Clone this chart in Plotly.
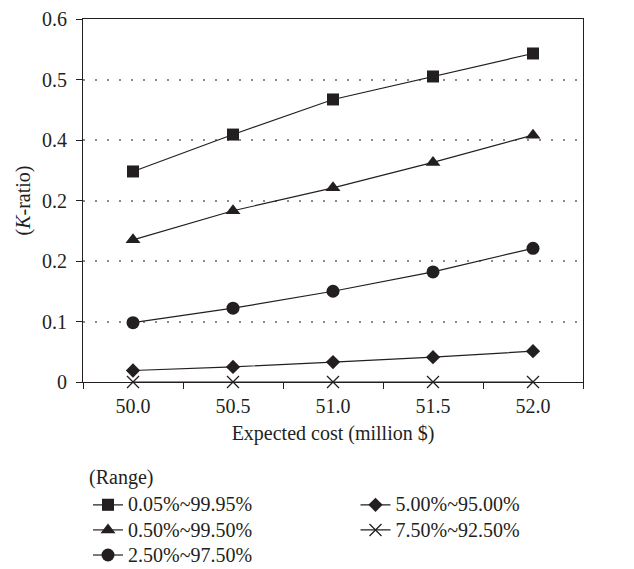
import plotly.graph_objects as go

categories = ["50.0", "50.5", "51.0", "51.5", "52.0"]
series_names = ["0.05%~99.95%", "0.50%~99.50%", "2.50%~97.50%", "5.00%~95.00%", "7.50%~92.50%"]
s1 = [0.348, 0.409, 0.467, 0.505, 0.543]
s2 = [0.235, 0.283, 0.321, 0.363, 0.408]
s3 = [0.098, 0.122, 0.150, 0.182, 0.221]
s4 = [0.019, 0.025, 0.033, 0.041, 0.051]
s5 = [0.0, 0.0, 0.0, 0.0, 0.0]
y_tickvals = [0, 0.1, 0.2, 0.3, 0.4, 0.5, 0.6]
y_ticktext = ["0", "0.1", "0.2", "0.2", "0.4", "0.5", "0.6"]

INK = "#231f20"
FONT = "Liberation Serif"
FS = 20

symbols = ["square", "triangle-up", "circle", "diamond", "x-thin"]
sizes = [12, 13, 13, 11, 12]
legends = ["legend", "legend", "legend", "legend2", "legend2"]
data = [s1, s2, s3, s4, s5]

fig = go.Figure()
for name, vals, sym, sz, lg in zip(series_names, data, symbols, sizes, legends):
    marker = dict(symbol=sym, size=sz, color=INK)
    if sym == "x-thin":
        marker["line"] = dict(color=INK, width=1.3)
    fig.add_trace(go.Scatter(
        x=categories, y=vals, mode="lines+markers",
        name='<span style="font-size:20px">' + name + '</span>',
        line=dict(color=INK, width=1.2), marker=marker, legend=lg,
        cliponaxis=False,
    ))

fig.update_layout(
    width=634, height=569,
    margin=dict(l=83, r=51, t=19, b=187, autoexpand=False),
    paper_bgcolor="white", plot_bgcolor="white",
    font=dict(family=FONT, size=FS, color=INK),
    xaxis=dict(
        type="category", range=[-0.5, 4.5], tickson="boundaries",
        ticks="outside", ticklen=6, tickcolor=INK, tickwidth=1,
        showline=True, linecolor=INK, linewidth=1, mirror=True,
        showgrid=False, zeroline=False, ticklabelstandoff=6,
        title=dict(text="Expected cost (million $)", font=dict(size=FS), standoff=9),
        tickfont=dict(size=FS),
    ),
    yaxis=dict(
        range=[0, 0.6], tickvals=y_tickvals, ticktext=y_ticktext,
        ticks="outside", ticklen=6, tickcolor=INK, tickwidth=1,
        showline=True, linecolor=INK, linewidth=1, mirror=True,
        showgrid=True, gridcolor="#8a8a8a", griddash="2px,10px", gridwidth=1.5,
        zeroline=False, ticklabelstandoff=5,
        title=dict(text="(<i>K</i>-ratio)", font=dict(size=FS), standoff=6),
        tickfont=dict(size=FS),
    ),
    legend=dict(
        x=0.01, y=-0.29, xanchor="left", yanchor="top",
        orientation="v", bgcolor="rgba(0,0,0,0)", font=dict(size=17),
        tracegroupgap=0,
    ),
    legend2=dict(
        x=0.545, y=-0.29, xanchor="left", yanchor="top",
        orientation="v", bgcolor="rgba(0,0,0,0)", font=dict(size=17),
        tracegroupgap=0,
    ),
    annotations=[dict(
        text="(Range)", xref="paper", yref="paper", x=0.008, y=-0.262,
        xanchor="left", yanchor="middle", showarrow=False, font=dict(size=FS),
    )],
)

fig.write_html("out.html")
